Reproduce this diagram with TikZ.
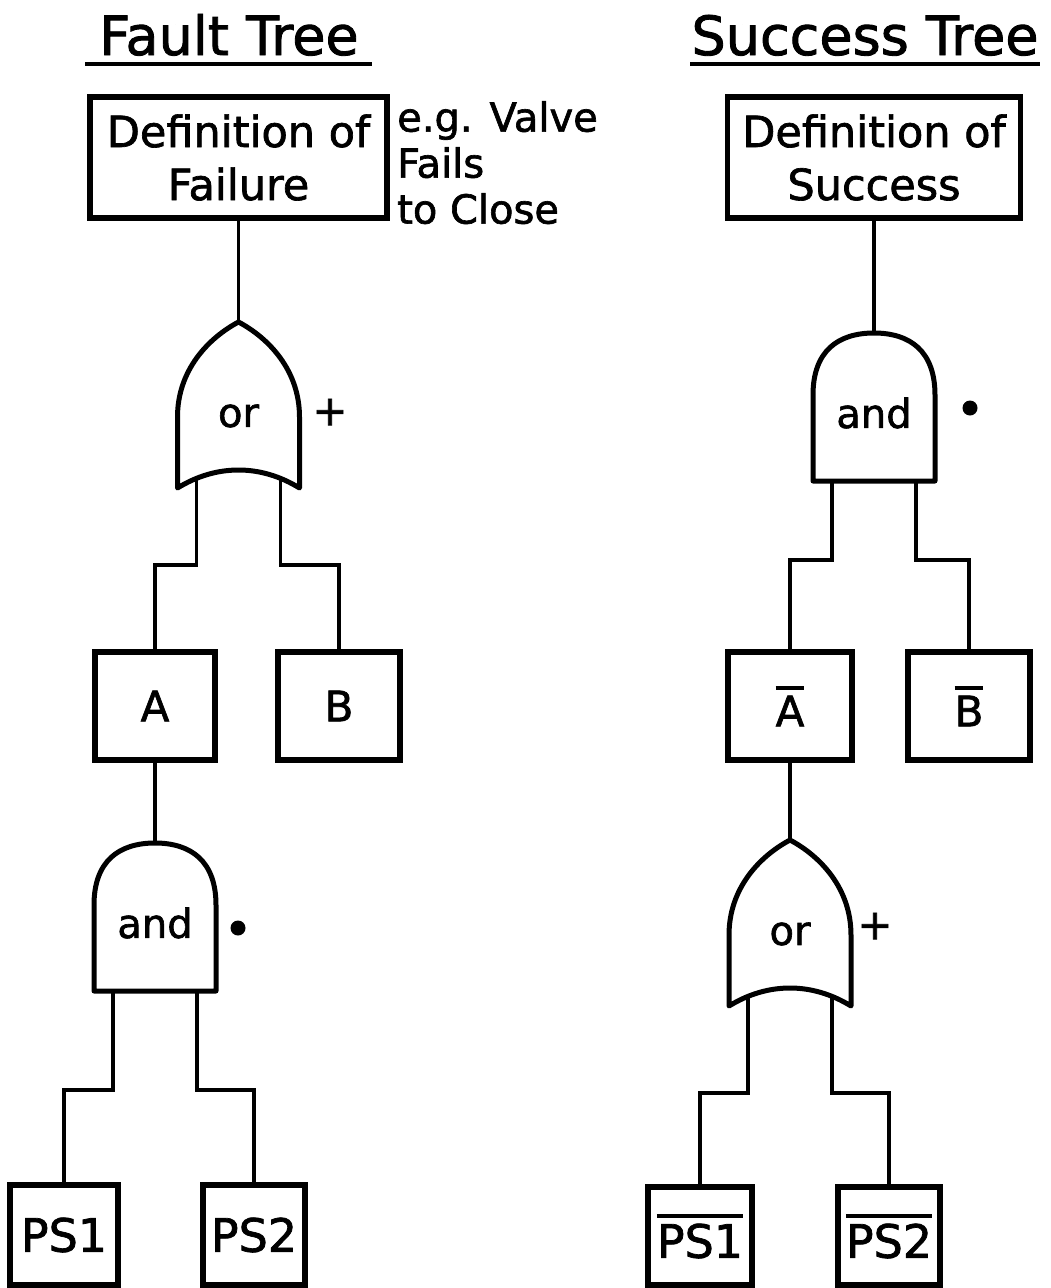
\documentclass[tikz,border=0pt]{standalone}
\usepackage{fontspec}
\setmainfont{DejaVu Sans}[BoldFont=DejaVu Sans, BoldFeatures={FakeBold=1.6}]
% lettering size with the slightly heavier pen
\newcommand\lettering[2]{\fontsize{#1}{#2}\selectfont\bfseries}
% negated event label: a thick bar over the text
\newcommand\negbar[1]{\leavevmode\vbox{\hrule height 4pt\kern 6pt\hbox{#1}}}
\pgfdeclarelayer{paper}
\pgfdeclarelayer{wires}
\pgfsetlayers{paper,wires,main}
\tikzset{
  box/.style={draw, line width=5.5pt, inner sep=0pt},
  wire/.style={line width=3.2pt},
  gateline/.style={line width=5pt, fill=white, line join=round},
  orgate/.pic={
    \draw[gateline] (-61,166) -- (-61,95) .. controls (-61,48) and (-30,16) .. (0,0)
       .. controls (30,16) and (61,48) .. (61,95) -- (61,166)
       .. controls (22,142) and (-22,142) .. cycle;
    \coordinate (-top) at (0,0);
    \coordinate (-in1) at (-42,150);
    \coordinate (-in2) at (42,150);
    \node[font=\lettering{40}{40}] (-lbl) at (0,94) {or};
  },
  andgate/.pic={
    \draw[gateline] (-61,148) -- (-61,62) .. controls (-61,18) and (-36,0) .. (0,0)
       .. controls (36,0) and (61,18) .. (61,62) -- (61,148) -- cycle;
    \coordinate (-top) at (0,0);
    \coordinate (-in1) at (-42,140);
    \coordinate (-in2) at (42,140);
    \node[font=\lettering{40}{40}] (-lbl) at (0,80) {and};
  },
  sign/.style={font=\lettering{42}{42}, inner sep=0pt},
  dotmark/.style={circle, fill, inner sep=0pt, minimum size=15pt},
  uline/.style={line width=4.5pt},
}
\begin{document}
\begin{tikzpicture}[x=1pt, y=-1pt]
\useasboundingbox (0,0) rectangle (1051,1288);
\begin{pgfonlayer}{paper}
  \fill[white] (0,0) rectangle (1051,1288);
\end{pgfonlayer}

% ---------- titles ----------
\node[anchor=base, font=\lettering{54}{54}] (tFault) at (229,55) {Fault Tree};
\node[anchor=base, font=\lettering{54}{54}] (tSucc) at (865,55) {Success Tree};
\draw[uline] (85,64) -- (372,64);
\draw[uline] (690,64) -- (1040,64);

% ---------- fault tree ----------
\node[box, minimum width=297pt, minimum height=121pt, align=center,
      font=\lettering{43}{53}] (fail) at (238.5,157.5) {Definition of\\Failure};
\node[anchor=north west, inner sep=0pt, align=left,
      font=\lettering{40}{46}] (note) at (397,101) {e.g. Valve\\Fails\\to Close};

\pic (orL) at (238.5,322) {orgate};
\node[sign] (plusL) at (330,412) {+};

\node[box, minimum width=120pt, minimum height=108pt, font=\lettering{42}{42}] (A) at (155,706) {A};
\node[box, minimum width=122pt, minimum height=108pt, font=\lettering{42}{42}] (B) at (339,706) {B};

\pic (andL) at (155,843) {andgate};
\node[dotmark] (dotL) at (238,928) {};

\node[box, minimum width=108pt, minimum height=100pt, font=\lettering{46}{46}] (ps1) at (64,1235) {PS1};
\node[box, minimum width=102pt, minimum height=100pt, font=\lettering{46}{46}] (ps2) at (254,1235) {PS2};

% ---------- success tree ----------
\node[box, minimum width=293pt, minimum height=121pt, align=center,
      font=\lettering{43}{53}] (succ) at (874,157.5) {Definition of\\Success};

\pic (andR) at (874,333) {andgate};
\node[dotmark] (dotR) at (970,408) {};

\node[box, minimum width=124pt, minimum height=108pt, font=\lettering{42}{42}] (nA) at (790,706) {\negbar{A}};
\node[box, minimum width=122pt, minimum height=108pt, font=\lettering{42}{42}] (nB) at (969,706) {\negbar{B}};

\pic (orR) at (790,840) {orgate};
\node[sign] (plusR) at (875,926) {+};

\node[box, minimum width=104pt, minimum height=98pt, font=\lettering{46}{46}] (nps1) at (700,1236) {\negbar{PS1}};
\node[box, minimum width=102pt, minimum height=98pt, font=\lettering{46}{46}] (nps2) at (889,1236) {\negbar{PS2}};

% rows where the gate inputs turn sideways
\coordinate (rowL1) at (0,565);
\coordinate (rowL2) at (0,1090);
\coordinate (rowR1) at (0,560);
\coordinate (rowR2) at (0,1093);

% ---------- connectors ----------
\begin{pgfonlayer}{wires}
  \draw[wire] (fail.south) -- (orL-top);
  \draw[wire] (orL-in1) -- (orL-in1 |- rowL1) -| (A.north);
  \draw[wire] (orL-in2) -- (orL-in2 |- rowL1) -| (B.north);
  \draw[wire] (A.south) -- (andL-top);
  \draw[wire] (andL-in1) -- (andL-in1 |- rowL2) -| (ps1.north);
  \draw[wire] (andL-in2) -- (andL-in2 |- rowL2) -| (ps2.north);

  \draw[wire] (succ.south) -- (andR-top);
  \draw[wire] (andR-in1) -- (andR-in1 |- rowR1) -| (nA.north);
  \draw[wire] (andR-in2) -- (andR-in2 |- rowR1) -| (nB.north);
  \draw[wire] (nA.south) -- (orR-top);
  \draw[wire] (orR-in1) -- (orR-in1 |- rowR2) -| (nps1.north);
  \draw[wire] (orR-in2) -- (orR-in2 |- rowR2) -| (nps2.north);
\end{pgfonlayer}
\end{tikzpicture}
\end{document}
